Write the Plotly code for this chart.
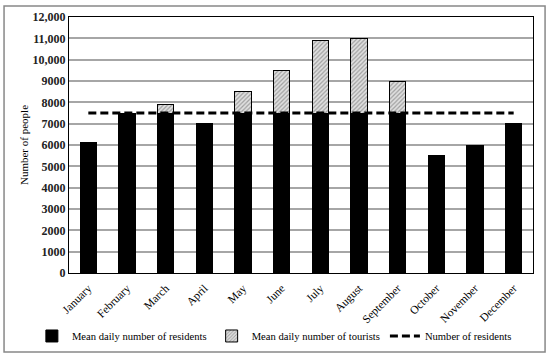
import plotly.graph_objects as go

months = ["January", "February", "March", "April", "May", "June", "July",
          "August", "September", "October", "November", "December"]
residents = [6100, 7500, 7500, 7000, 7500, 7500, 7500, 7500, 7500, 5500, 6000, 7000]
tourists = [None, None, 400, None, 1000, 2000, 3400, 3500, 1500, None, None, None]
resident_count = [7500] * 12
ytick_vals = [0, 1000, 2000, 3000, 4000, 5000, 6000, 7000, 8000, 9000, 10000, 11000, 12000]
ytick_text = ["0", "1000", "2000", "3000", "4000", "5000", "6000", "7000", "8000",
              "9000", "10,000", "11,000", "12,000"]

FONT = "Liberation Serif"

fig = go.Figure()
fig.add_trace(go.Bar(
    x=months, y=residents, name="Mean daily number of residents",
    marker=dict(color="black", line=dict(color="black", width=1)),
    width=0.42,
))
fig.add_trace(go.Bar(
    x=months, y=tourists, name="Mean daily number of tourists",
    marker=dict(color="#e0e0e0", line=dict(color="black", width=1),
                pattern=dict(shape="/", fgcolor="#606060", bgcolor="#e0e0e0",
                             size=3, solidity=0.4)),
    width=0.42,
))
fig.add_trace(go.Scatter(
    x=months, y=resident_count, name="Number of residents", mode="lines",
    line=dict(color="black", width=3, dash="8px,4px"),
))

fig.update_layout(
    width=550, height=356,
    margin=dict(l=69, r=17, t=17, b=83, autoexpand=False),
    barmode="stack",
    paper_bgcolor="white", plot_bgcolor="white",
    font=dict(family=FONT, color="black", size=11),
    showlegend=True,
    legend=dict(orientation="h", x=-0.08, xanchor="left",
                y=-0.246, yanchor="middle",
                font=dict(family=FONT, size=10.6), traceorder="normal",
                tracegroupgap=0, bgcolor="rgba(0,0,0,0)"),
    xaxis=dict(tickangle=-45, tickfont=dict(family=FONT, size=11.5), showline=True,
               linecolor="black", linewidth=1, mirror=True, ticks="",
               ticklabelstandoff=3, range=[-0.5, 11.5]),
    yaxis=dict(range=[0, 12000], tickvals=ytick_vals, ticktext=ytick_text,
               tickfont=dict(family=FONT, size=12, weight="bold", color="#222"),
               showgrid=True, gridcolor="#a6a6a6", gridwidth=1.5,
               showline=True, linecolor="black", linewidth=1, mirror=True,
               zeroline=False, ticks="", automargin=True,
               title=dict(text="Number of people", font=dict(family=FONT, size=11),
                          standoff=1)),
    shapes=[dict(type="rect", xref="paper", yref="paper",
                 x0=-0.140, x1=1.026, y0=-0.3086, y1=1.043,
                 line=dict(color="#888888", width=1.5), layer="below")],
)

fig.write_html("out.html", config={"displayModeBar": False},
               post_script="document.body.style.margin='0';")
